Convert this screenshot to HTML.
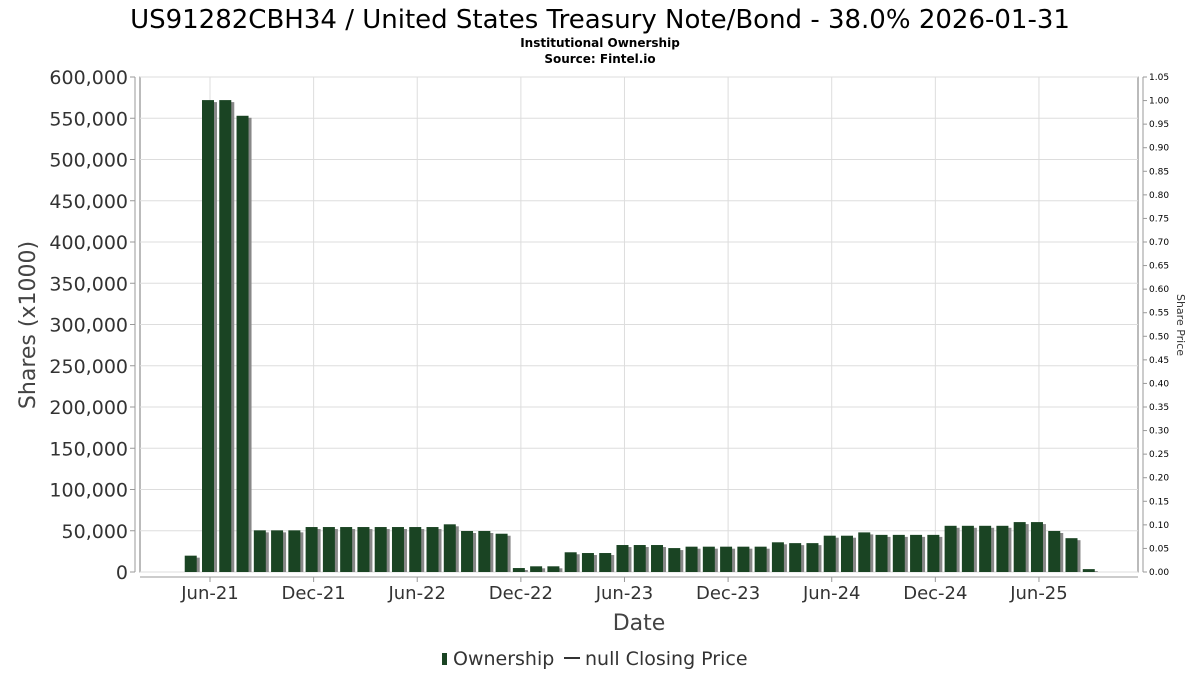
<!DOCTYPE html>
<html><head><meta charset="utf-8"><style>
body{margin:0;background:#fff;}
svg{display:block;font-family:"DejaVu Sans","Liberation Sans",sans-serif;}
</style></head><body>
<svg id="chart" width="1200" height="675" viewBox="0 0 1200 675">
<text x="600" y="28" text-anchor="middle" font-size="26" fill="#000">US91282CBH34 / United States Treasury Note/Bond - 38.0% 2026-01-31</text>
<text x="600" y="47" text-anchor="middle" font-size="12" font-weight="bold" fill="#000">Institutional Ownership</text>
<text x="600" y="63" text-anchor="middle" font-size="12" font-weight="bold" fill="#000">Source: Fintel.io</text>
<rect x="140" y="77" width="998" height="495" fill="#fff" stroke="#777"/>
<g id="grid"></g><g id="bars"></g><g id="axes"></g>
<text transform="translate(35,325) rotate(-90)" text-anchor="middle" font-size="22" fill="#444">Shares (x1000)</text>
<text x="639" y="630" text-anchor="middle" font-size="22" fill="#444">Date</text>
<text transform="translate(1177,325) rotate(90)" text-anchor="middle" font-size="11" fill="#333">Share Price</text>
<g>
<rect x="442" y="653" width="5" height="12" fill="#1a4423"/>
<text x="453" y="665" font-size="19" fill="#333">Ownership</text>
<line x1="564" y1="658" x2="580" y2="658" stroke="#333" stroke-width="2"/>
<text x="585" y="665" font-size="19" fill="#333">null Closing Price</text>
</g>
</svg>
<script>
const months = ["2021-05","2021-06","2021-07","2021-08","2021-09","2021-10","2021-11","2021-12","2022-01","2022-02","2022-03","2022-04","2022-05","2022-06","2022-07","2022-08","2022-09","2022-10","2022-11","2022-12","2023-01","2023-02","2023-03","2023-04","2023-05","2023-06","2023-07","2023-08","2023-09","2023-10","2023-11","2023-12","2024-01","2024-02","2024-03","2024-04","2024-05","2024-06","2024-07","2024-08","2024-09","2024-10","2024-11","2024-12","2025-01","2025-02","2025-03","2025-04","2025-05","2025-06","2025-07","2025-08","2025-09"];
const shares = [19800,572000,572000,553000,50500,50500,50500,54500,54500,54500,54500,54500,54500,54500,54500,57800,49700,49700,46400,4800,6900,6900,23900,23000,23000,32700,32700,32700,29000,30700,30700,30700,30700,30700,36000,35000,35000,44000,44000,48000,45000,45000,45000,45000,56000,56000,56000,56000,60500,60500,49700,41000,3500];
const yTicks = [0,50000,100000,150000,200000,250000,300000,350000,400000,450000,500000,550000,600000];
const rTicks = [0,0.05,0.1,0.15,0.2,0.25,0.3,0.35,0.4,0.45,0.5,0.55,0.6,0.65,0.7,0.75,0.8,0.85,0.9,0.95,1.0,1.05];
const xTickLabels = ["Jun-21","Dec-21","Jun-22","Dec-22","Jun-23","Dec-23","Jun-24","Dec-24","Jun-25"];
const xTickMonths = ["2021-06","2021-12","2022-06","2022-12","2023-06","2023-12","2024-06","2024-12","2025-06"];
const NS="http://www.w3.org/2000/svg";
function mi(s){const [y,m]=s.split("-").map(Number);return y*12+m-1;}
const m0=mi("2021-06");
function x(s){return 210+(mi(s)-m0)*17.27;}
function y(v){return 572-v/600000*495;}
function yr(v){return 572-v/1.05*495;}
function el(t,a,p){const e=document.createElementNS(NS,t);for(const k in a)e.setAttribute(k,a[k]);p.appendChild(e);return e;}
const grid=document.getElementById("grid"),bars=document.getElementById("bars"),axes=document.getElementById("axes");
yTicks.forEach(v=>{
  const g=el("line",{x1:140,x2:1138,y1:y(v),y2:y(v),stroke:"#ddd"},grid);
  
  
  const tk=el("line",{x1:130,x2:135,y1:y(v),y2:y(v),stroke:"#999"},axes);
  
  
  const t=el("text",{x:128,y:y(v)+7,"text-anchor":"end","font-size":"19",fill:"#333"},axes);
  t.textContent=v.toLocaleString("en-US");
  
  
});
xTickMonths.forEach((m,i)=>{
  const g=el("line",{x1:x(m),x2:x(m),y1:77,y2:572,stroke:"#ddd"},grid);
  
  
  const tk=el("line",{x1:x(m),x2:x(m),y1:577,y2:582,stroke:"#999"},axes);
  
  
  const t=el("text",{x:x(m),y:599,"text-anchor":"middle","font-size":"18",fill:"#333"},axes);
  t.textContent=xTickLabels[i];
  
  
});
rTicks.forEach(v=>{
  const tk=el("line",{x1:1143,x2:1147,y1:yr(v),y2:yr(v),stroke:"#999"},axes);
  
  
  const t=el("text",{x:1149,y:yr(v)+3,"font-size":"9",fill:"#000"},axes);
  t.textContent=v.toFixed(2);
  
  
});
const la=el("line",{x1:135,x2:135,y1:77,y2:572,stroke:"#999"},axes);


const ra=el("line",{x1:1143,x2:1143,y1:77,y2:572,stroke:"#999"},axes);


const xa=el("line",{x1:140,x2:1138,y1:577,y2:577,stroke:"#999"},axes);


months.forEach((m,i)=>{
  const cx=x(m)-2, top=y(shares[i]);
  const s=el("rect",{x:cx-6+3,y:top+2,width:12,height:572-top-2,fill:"#888"},bars);
  
  
  const b=el("rect",{x:cx-6,y:top,width:12,height:572-top,fill:"#1a4423"},bars);
  
  
});
</script>
</body></html>
